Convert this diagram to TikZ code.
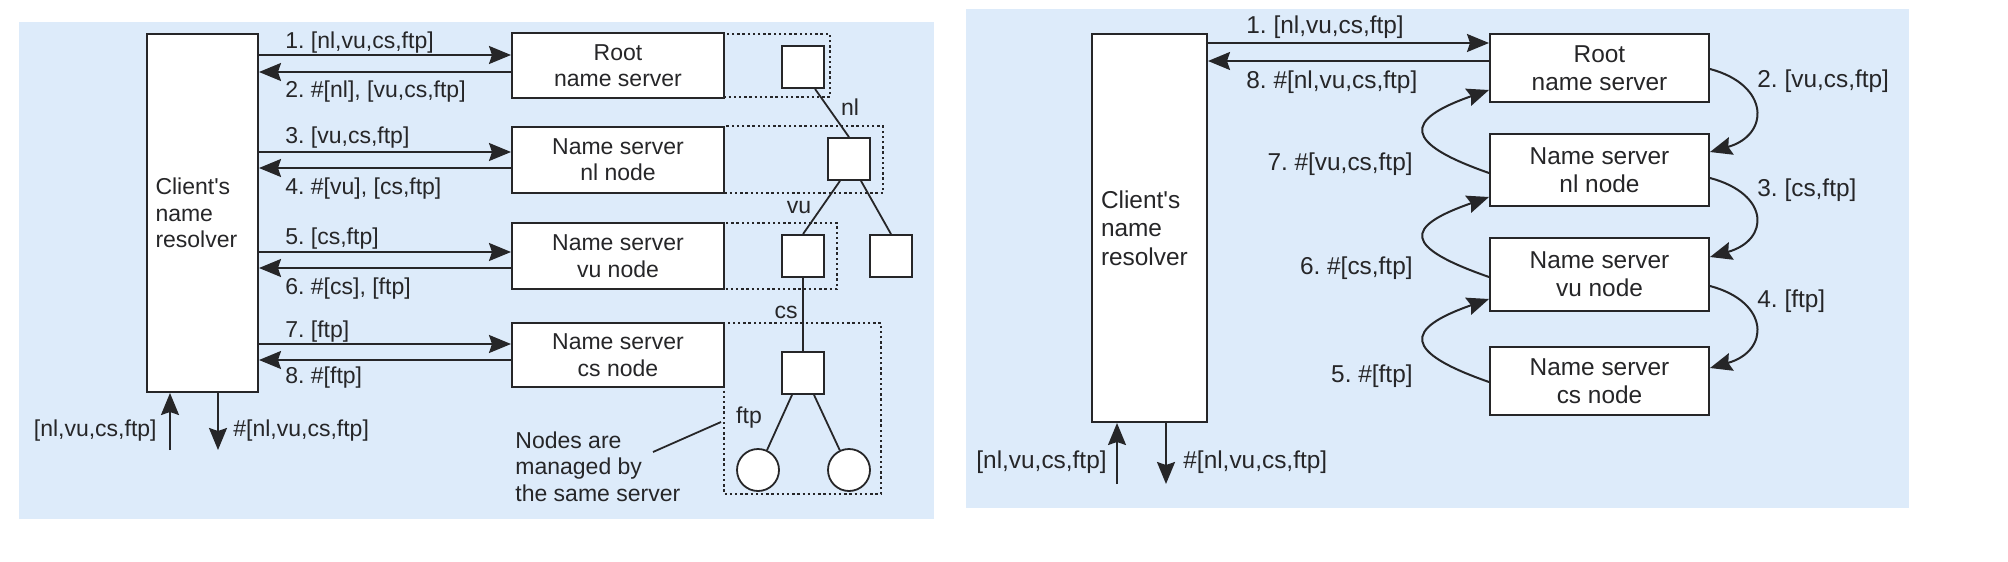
\documentclass[tikz,border=0pt]{standalone}
\usepackage{fontspec}
\setmainfont{Liberation Sans}
\usetikzlibrary{arrows.meta,calc}
\definecolor{bg}{RGB}{221,235,250}
\definecolor{ink}{RGB}{38,38,40}
\frenchspacing
\begin{document}
\begin{tikzpicture}[x=0.5pt,y=-0.5pt,
  fL/.style={font=\fontsize{11.5}{13.2}\selectfont},
  fR/.style={font=\fontsize{12.2}{14.2}\selectfont},
  box/.style={draw=ink, line width=1pt, fill=white, inner sep=0pt, align=center, text=ink},
  arr/.style={draw=ink, line width=1pt, -{Stealth[length=11pt,width=9pt,inset=1.5pt]}},
  ln/.style={draw=ink, line width=0.9pt},
  dotbox/.style={draw=ink, line width=0.9pt, dash pattern=on 1.2pt off 1.4pt},
  lbl/.style={inner sep=0pt, text=ink},
  sq/.style={draw=ink, line width=0.9pt, fill=white, minimum size=21pt, inner sep=0pt},
  leaf/.style={circle, draw=ink, line width=0.9pt, fill=white, minimum size=21pt, inner sep=0pt},
]
\useasboundingbox (0,0) rectangle (2008,562);
\fill[bg] (19,22) rectangle (934,519);
\fill[bg] (966,9) rectangle (1909,508);

% ---------- left panel ----------
\draw[dotbox] (724,34) rectangle (830,97);
\draw[dotbox] (724,126) rectangle (883,193);
\draw[dotbox] (724,223) rectangle (837,289);
\draw[dotbox] (724,323) rectangle (881,494);

\node[box, fL, minimum width=55.5pt, minimum height=179pt, text width=47pt, align=left] (cl) at (202.5,213) {Client\textquotesingle s\\name\\resolver};
\node[box, fL, minimum width=106pt, minimum height=32.5pt] (r1) at (618,65.5) {Root\\name server};
\node[box, fL, minimum width=106pt, minimum height=33pt] (n1) at (618,159.5) {Name server\\nl node};
\node[box, fL, minimum width=106pt, minimum height=33pt] (v1) at (618,256) {Name server\\vu node};
\node[box, fL, minimum width=106pt, minimum height=32pt] (s1) at (618,355) {Name server\\cs node};

\draw[arr] (cl.east |- 0,55) -- (r1.west |- 0,55);
\draw[arr] (r1.west |- 0,72) -- (cl.east |- 0,72);
\draw[arr] (cl.east |- 0,152) -- (n1.west |- 0,152);
\draw[arr] (n1.west |- 0,168) -- (cl.east |- 0,168);
\draw[arr] (cl.east |- 0,252) -- (v1.west |- 0,252);
\draw[arr] (v1.west |- 0,268) -- (cl.east |- 0,268);
\draw[arr] (cl.east |- 0,344) -- (s1.west |- 0,344);
\draw[arr] (s1.west |- 0,360) -- (cl.east |- 0,360);

\node[lbl, fL, anchor=base west] (la1) at (285,48) {1. [nl,vu,cs,ftp]};
\node[lbl, fL, anchor=base west] (la2) at (285,97) {2. \#[nl], [vu,cs,ftp]};
\node[lbl, fL, anchor=base west] (la3) at (285,143) {3. [vu,cs,ftp]};
\node[lbl, fL, anchor=base west] (la4) at (285,194) {4. \#[vu], [cs,ftp]};
\node[lbl, fL, anchor=base west] (la5) at (285,244) {5. [cs,ftp]};
\node[lbl, fL, anchor=base west] (la6) at (285,294) {6. \#[cs], [ftp]};
\node[lbl, fL, anchor=base west] (la7) at (285,337) {7. [ftp]};
\node[lbl, fL, anchor=base west] (la8) at (285,383) {8. \#[ftp]};

\coordinate (inA) at (170,450);
\coordinate (outA) at (218,450);
\draw[arr] (inA) -- (inA |- cl.south);
\draw[arr] (outA |- cl.south) -- (outA);
\node[lbl, fL, anchor=base east] (ina) at (157,436) {[nl,vu,cs,ftp]};
\node[lbl, fL, anchor=base west] (outa) at (233,436) {\#[nl,vu,cs,ftp]};

% tree
\node[sq] (t0) at (803,67) {};
\node[sq] (t1) at (849,159) {};
\node[sq] (t2) at (803,256) {};
\node[sq] (t3) at (891,256) {};
\node[sq] (t4) at (803,373) {};
\node[leaf] (t5) at (758,470) {};
\node[leaf] (t6) at (849,470) {};
\draw[ln] ($(t0.south)+(12,0)$) -- (t1.north);
\draw[ln] ($(t1.south)+(-9,0)$) -- (t2.north);
\draw[ln] ($(t1.south)+(12,0)$) -- (t3.north);
\draw[ln] (t2.south) -- (t4.north);
\draw[ln] ($(t4.south)+(-11,0)$) -- (t5);
\draw[ln] ($(t4.south)+(11,0)$) -- (t6);
\node[lbl, fL, anchor=base] (tnl) at (850,115) {nl};
\node[lbl, fL, anchor=base] (tvu) at (799,213) {vu};
\node[lbl, fL, anchor=base] (tcs) at (786,318) {cs};
\node[lbl, fL, anchor=base] (tftp) at (749,423) {ftp};

\node[lbl, fL, anchor=base west, align=left] (note) at (515,501) {Nodes are\\managed by\\the same server};
\coordinate (noteEnd) at (721,422);
\draw[ln] (653,452) -- (noteEnd);

% ---------- right panel ----------
\node[box, fR, minimum width=57.5pt, minimum height=194pt, text width=48.5pt, align=left] (cr) at (1149.5,228) {Client\textquotesingle s\\name\\resolver};
\node[box, fR, minimum width=109.5pt, minimum height=34pt] (r2) at (1599.5,68) {Root\\name server};
\node[box, fR, minimum width=109.5pt, minimum height=36pt] (n2) at (1599.5,170) {Name server\\nl node};
\node[box, fR, minimum width=109.5pt, minimum height=36.5pt] (v2) at (1599.5,274.5) {Name server\\vu node};
\node[box, fR, minimum width=109.5pt, minimum height=34pt] (s2) at (1599.5,381) {Name server\\cs node};

\draw[arr] (cr.east |- 0,43) -- (r2.west |- 0,43);
\draw[arr] (r2.west |- 0,61) -- (cr.east |- 0,61);
\node[lbl, fR, anchor=base west] (lb1) at (1246,33) {1. [nl,vu,cs,ftp]};
\node[lbl, fR, anchor=base west] (lb8) at (1246,88) {8. \#[nl,vu,cs,ftp]};

\draw[arr] (r2.east |- 0,69) .. controls (1770,85) and (1770,135) .. (n2.east |- 0,152);
\draw[arr] (n2.east |- 0,178) .. controls (1770,194) and (1770,240) .. (v2.east |- 0,257);
\draw[arr] (v2.east |- 0,286) .. controls (1770,302) and (1770,351) .. (s2.east |- 0,368);
\node[lbl, fR, anchor=base west] (lb2) at (1757,87) {2. [vu,cs,ftp]};
\node[lbl, fR, anchor=base west] (lb3) at (1757,196) {3. [cs,ftp]};
\node[lbl, fR, anchor=base west] (lb4) at (1757,307) {4. [ftp]};

\draw[arr] (n2.west |- 0,173) .. controls (1403,143) and (1403,120) .. (r2.west |- 0,90);
\draw[arr] (v2.west |- 0,277) .. controls (1403,247) and (1403,227) .. (n2.west |- 0,197);
\draw[arr] (s2.west |- 0,382) .. controls (1403,352) and (1403,329) .. (v2.west |- 0,299);
\node[lbl, fR, anchor=base east] (lb7) at (1413,170) {7. \#[vu,cs,ftp]};
\node[lbl, fR, anchor=base east] (lb6) at (1413,274) {6. \#[cs,ftp]};
\node[lbl, fR, anchor=base east] (lb5) at (1413,382) {5. \#[ftp]};

\coordinate (inB) at (1117,484);
\coordinate (outB) at (1166,484);
\draw[arr] (inB) -- (inB |- cr.south);
\draw[arr] (outB |- cr.south) -- (outB);
\node[lbl, fR, anchor=base east] (inb) at (1107,468) {[nl,vu,cs,ftp]};
\node[lbl, fR, anchor=base west] (outb) at (1183,468) {\#[nl,vu,cs,ftp]};
\end{tikzpicture}
\end{document}
